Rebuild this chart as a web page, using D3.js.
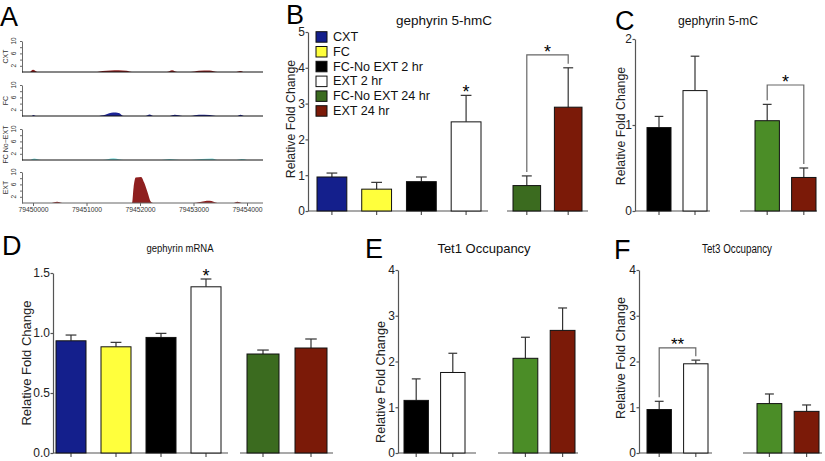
<!DOCTYPE html>
<html>
<head>
<meta charset="utf-8">
<script src="https://cdn.jsdelivr.net/npm/d3@7"></script>
<style>
  body { margin: 0; background: #fff; }
  svg { display: block; font-family: "Liberation Sans", Arial, sans-serif; }
</style>
</head>
<body>
<svg id="fig" width="825" height="461"></svg>
<script>
// ---------- data ----------
const groupNames = ["CXT", "FC", "FC-No EXT 2 hr", "EXT 2 hr", "FC-No EXT 24 hr", "EXT 24 hr"];

// B: gephyrin 5-hmC (all six groups)
const hmcMean = [0.95, 0.61, 0.82, 2.49, 0.71, 2.90];
const hmcSem  = [0.11, 0.19, 0.13, 0.74, 0.27, 1.10];

// C: gephyrin 5-mC (FC-No EXT 2 hr, EXT 2 hr, FC-No EXT 24 hr, EXT 24 hr)
const mcMean = [0.97, 1.40, 1.05, 0.39];
const mcSem  = [0.13, 0.40, 0.19, 0.11];

// D: gephyrin mRNA
const mrnaMean = [0.935, 0.885, 0.963, 1.385, 0.825, 0.875];
const mrnaSem  = [0.048, 0.037, 0.034, 0.065, 0.033, 0.075];

// E / F: Tet1 and Tet3 occupancy
const tet1Mean = [1.15, 1.76, 2.07, 2.68];
const tet1Sem  = [0.47, 0.42, 0.46, 0.49];
const tet3Mean = [0.95, 1.95, 1.08, 0.91];
const tet3Sem  = [0.18, 0.08, 0.21, 0.14];

// A: coverage tracks, [genomic position, signal]
const trackNames = ["CXT", "FC", "FC No\u2212EXT", "EXT"];
const genomeTicks = [79450000, 79451000, 79452000, 79453000, 79454000];
const cxtCoverage = [
  [79449950, 0], [79450000, 0.7], [79450080, 0],
  [79451200, 0], [79451300, 0.3], [79451450, 0.5], [79451600, 0.6], [79451750, 0.4], [79451850, 0],
  [79452500, 0], [79452600, 0.6], [79452700, 0],
  [79452950, 0], [79453100, 0.4], [79453300, 0.5], [79453450, 0],
  [79453800, 0], [79453870, 0.3], [79453930, 0]
];
const fcCoverage = [
  [79449980, 0], [79450010, 0.3], [79450050, 0],
  [79451200, 0], [79451350, 0.4], [79451500, 1.1], [79451600, 1.0], [79451700, 0],
  [79452100, 0], [79452180, 0.5], [79452250, 0],
  [79452550, 0], [79452650, 0.4], [79452800, 0],
  [79452950, 0], [79453100, 0.4], [79453300, 0.3], [79453420, 0],
  [79453820, 0], [79453880, 0.4], [79453940, 0]
];
const fcNoExtCoverage = [
  [79449950, 0], [79450020, 0.5], [79450150, 0],
  [79451300, 0], [79451500, 0.6], [79451700, 0],
  [79452400, 0], [79452550, 0.3], [79452750, 0],
  [79452950, 0], [79453150, 0.3], [79453350, 0.5], [79453450, 0],
  [79453800, 0], [79453900, 0.3], [79454000, 0]
];
const extCoverage = [
  [79450350, 0], [79450450, 0.4], [79450550, 0],
  [79451850, 0], [79451880, 5], [79451920, 8.2], [79452020, 8.4], [79452080, 6.5], [79452150, 3], [79452200, 0.5], [79452250, 0],
  [79453000, 0], [79453200, 0.6], [79453300, 0.7], [79453450, 0],
  [79453750, 0], [79453820, 0.4], [79453900, 0]
];

// ---------- colours ----------
const blue = "#141f8c", yellow = "#ffff3c", black = "#000", white = "#fff";
const greenDark = "#3b6b1f", green = "#4b8d27", red = "#7b1a08";
const axisColor = "#555";

const svg = d3.select("#fig");

function letter(t, x, y) {
  svg.append("text").attr("x", x).attr("y", y).attr("font-size", 27).text(t);
}

// ---------- panel A ----------
function drawTracks() {
  const gx = d3.scaleLinear().domain([79450000, 79454000]).range([33, 247]);
  const bases = [72, 116, 160, 203];
  const data = [cxtCoverage, fcCoverage, fcNoExtCoverage, extCoverage];
  const fills = ["#8e1f1f", "#1c2496", "#86dede", "#8e1f1f"];
  const g = svg.append("g");

  data.forEach((cov, i) => {
    const ty = d3.scaleLinear().domain([0, 10]).range([bases[i], bases[i] - 31]);
    const area = d3.area()
      .x(d => gx(d[0]))
      .y0(ty(0))
      .y1(d => ty(d[1]))
      .curve(d3.curveMonotoneX);
    g.append("path").datum(cov).attr("d", area).attr("fill", fills[i]);

    g.append("g")
      .attr("transform", "translate(22,0)")
      .call(d3.axisLeft(ty).tickValues([2, 4, 6, 8, 10]).tickSize(2).tickFormat("").tickSizeOuter(0))
      .call(a => a.selectAll("line, path").attr("stroke", "#444").attr("stroke-width", 0.8));

    [2, 6, 10].forEach(v => {
      g.append("text")
        .attr("transform", `translate(16,${ty(v)}) rotate(-90)`)
        .attr("text-anchor", "middle")
        .attr("font-size", 6.5).attr("fill", "#333")
        .text(v);
    });

    g.append("text")
      .attr("transform", `translate(8,${ty(5)}) rotate(-90)`)
      .attr("text-anchor", "middle")
      .attr("font-size", 7).attr("fill", "#333")
      .text(trackNames[i]);

    g.append("line")
      .attr("x1", 22).attr("x2", 263)
      .attr("y1", ty(0)).attr("y2", ty(0))
      .attr("stroke", i === 3 ? "#666" : "#111").attr("stroke-width", 1.2);
  });

  g.append("g")
    .attr("transform", `translate(0,${bases[3]})`)
    .call(d3.axisBottom(gx).tickValues(genomeTicks).tickFormat(d3.format("d")).tickSize(3).tickPadding(1))
    .call(a => a.select(".domain").remove())
    .call(a => a.selectAll("line").attr("stroke", "#666"))
    .call(a => a.selectAll("text").attr("font-size", 6.8).attr("fill", "#333").attr("font-family", null));
}

// ---------- bar panels ----------
function barPanel(p) {
  const g = svg.append("g");
  const y = d3.scaleLinear().domain([0, p.yMax]).range([p.y0, p.yTop]);

  g.append("g")
    .attr("transform", `translate(${p.axisX},0)`)
    .call(d3.axisLeft(y).tickValues(p.ticks).tickFormat(p.fmt).tickSize(2.5).tickSizeOuter(0).tickPadding(0.5))
    .call(a => a.selectAll("line, path").attr("stroke", axisColor).attr("stroke-width", 1.2))
    .call(a => a.selectAll("text").attr("font-size", 12).attr("fill", "#222").attr("font-family", null));

  g.append("text")
    .attr("transform", `translate(${p.ylab[0]},${p.ylab[1]}) rotate(-90)`)
    .attr("text-anchor", "middle").attr("dy", "0.35em")
    .attr("font-size", p.ylabSize).attr("fill", "#222")
    .text("Relative Fold Change");

  const title = g.append("text")
    .attr("x", p.titleAt[0]).attr("y", p.titleAt[1])
    .attr("text-anchor", "middle")
    .attr("font-size", p.titleSize).attr("fill", "#111")
    .text(p.title);
  // some panels were squeezed sideways in the original figure
  if (p.titleWidth) title.attr("textLength", p.titleWidth).attr("lengthAdjust", "spacingAndGlyphs");

  const xs = {};
  p.groups.forEach(grp => {
    const x = d3.scaleBand().domain(grp.bars).range(grp.span).paddingInner(1 / 3);
    grp.bars.forEach(i => { xs[i] = { x: x(i), w: x.bandwidth() }; });

    g.append("line")
      .attr("x1", grp.base[0]).attr("x2", grp.base[1])
      .attr("y1", p.y0).attr("y2", p.y0)
      .attr("stroke", axisColor).attr("stroke-width", 1.2);

    g.append("g")
      .attr("transform", `translate(0,${p.y0})`)
      .call(d3.axisBottom(x).tickFormat("").tickSize(4).tickSizeOuter(0))
      .call(a => a.select(".domain").remove())
      .call(a => a.selectAll("line").attr("stroke", axisColor).attr("stroke-width", 1.2));

    const bars = g.selectAll(null).data(grp.bars).join("g");
    bars.append("line")
      .attr("x1", i => x(i) + x.bandwidth() / 2).attr("x2", i => x(i) + x.bandwidth() / 2)
      .attr("y1", i => y(p.mean[i])).attr("y2", i => y(p.mean[i] + p.sem[i]))
      .attr("stroke", "#333").attr("stroke-width", 1.2);
    bars.append("line")
      .attr("x1", i => x(i) + x.bandwidth() * 0.32).attr("x2", i => x(i) + x.bandwidth() * 0.68)
      .attr("y1", i => y(p.mean[i] + p.sem[i])).attr("y2", i => y(p.mean[i] + p.sem[i]))
      .attr("stroke", "#333").attr("stroke-width", 1.2);
    bars.append("rect")
      .attr("x", i => x(i)).attr("width", x.bandwidth())
      .attr("y", i => y(p.mean[i])).attr("height", i => p.y0 - y(p.mean[i]))
      .attr("fill", i => p.colors[i]).attr("stroke", "#111").attr("stroke-width", 1);
  });

  const mid = i => xs[i].x + xs[i].w / 2;
  const errTop = i => y(p.mean[i] + p.sem[i]);

  (p.stars || []).forEach(s => {
    g.append("text")
      .attr("x", mid(s.bar)).attr("y", errTop(s.bar) - 7.5 + 0.58 * p.starSize)
      .attr("text-anchor", "middle").attr("font-size", p.starSize)
      .text(s.label);
  });

  (p.brackets || []).forEach(b => {
    const top = y(b.top);
    g.append("path")
      .attr("d", `M${mid(b.a)},${errTop(b.a) - 4}V${top}H${mid(b.b)}V${errTop(b.b) - 4}`)
      .attr("fill", "none").attr("stroke", "#666").attr("stroke-width", 1.2);
    g.append("text")
      .attr("x", (mid(b.a) + mid(b.b)) / 2).attr("y", top - 7.5 + 0.58 * p.starSize)
      .attr("text-anchor", "middle").attr("font-size", p.starSize)
      .text(b.label);
  });
}

function legend(x, y0) {
  const colors = [blue, yellow, black, white, greenDark, red];
  const g = svg.append("g");
  groupNames.forEach((name, i) => {
    const y = y0 + i * 14.8;
    g.append("rect").attr("x", x).attr("y", y).attr("width", 11).attr("height", 10.5)
      .attr("fill", colors[i]).attr("stroke", "#111").attr("stroke-width", 1);
    g.append("text").attr("x", x + 17).attr("y", y + 9.3)
      .attr("font-size", 12.6).attr("fill", "#111").text(name);
  });
}

drawTracks();

barPanel({
  title: "gephyrin 5-hmC", titleAt: [444, 25], titleSize: 13.5,
  mean: hmcMean, sem: hmcSem, colors: [blue, yellow, black, white, greenDark, red],
  yMax: 5, ticks: [0, 1, 2, 3, 4, 5], fmt: d3.format("d"),
  axisX: 308, y0: 211, yTop: 32, ylab: [291, 119], ylabSize: 12.3,
  groups: [
    { bars: [0, 1, 2, 3], base: [308, 488], span: [317, 481] },
    { bars: [4, 5], base: [507, 588], span: [513, 582] }
  ],
  stars: [{ bar: 3, label: "*" }],
  brackets: [{ a: 4, b: 5, top: 4.36, label: "*" }],
  starSize: 18
});

barPanel({
  title: "gephyrin 5-mC", titleAt: [718, 25], titleSize: 12.2,
  mean: mcMean, sem: mcSem, colors: [black, white, green, red],
  yMax: 2, ticks: [0, 1, 2], fmt: d3.format("d"),
  axisX: 635, y0: 211, yTop: 39, ylab: [621, 126], ylabSize: 12.3,
  groups: [
    { bars: [0, 1], base: [635, 710], span: [647, 707] },
    { bars: [2, 3], base: [740, 817], span: [755, 816] }
  ],
  brackets: [{ a: 2, b: 3, top: 1.465, label: "*" }],
  starSize: 18
});

barPanel({
  title: "gephyrin mRNA", titleAt: [180, 252], titleSize: 11.5, titleWidth: 67,
  mean: mrnaMean, sem: mrnaSem, colors: [blue, yellow, black, white, greenDark, red],
  yMax: 1.5, ticks: [0, 0.5, 1, 1.5], fmt: d3.format(".1f"),
  axisX: 53, y0: 453, yTop: 273, ylab: [26, 363], ylabSize: 13,
  groups: [
    { bars: [0, 1, 2, 3], base: [53, 228], span: [56, 221] },
    { bars: [4, 5], base: [240, 333], span: [247, 327] }
  ],
  stars: [{ bar: 3, label: "*" }],
  starSize: 18
});

barPanel({
  title: "Tet1 Occupancy", titleAt: [484, 253], titleSize: 13,
  mean: tet1Mean, sem: tet1Sem, colors: [black, white, green, red],
  yMax: 4, ticks: [0, 1, 2, 3, 4], fmt: d3.format("d"),
  axisX: 398, y0: 453, yTop: 270, ylab: [381, 382], ylabSize: 12.7,
  groups: [
    { bars: [0, 1], base: [398, 476], span: [404, 465] },
    { bars: [2, 3], base: [498, 578], span: [513, 575] }
  ],
  starSize: 18
});

barPanel({
  title: "Tet3 Occupancy", titleAt: [737, 253], titleSize: 12, titleWidth: 70,
  mean: tet3Mean, sem: tet3Sem, colors: [black, white, green, red],
  yMax: 4, ticks: [0, 1, 2, 3, 4], fmt: d3.format("d"),
  axisX: 639, y0: 453, yTop: 270, ylab: [621, 358], ylabSize: 12.7,
  groups: [
    { bars: [0, 1], base: [639, 712], span: [647, 708] },
    { bars: [2, 3], base: [743, 822], span: [757, 819] }
  ],
  brackets: [{ a: 0, b: 1, top: 2.3, label: "**" }],
  starSize: 17
});

legend(316, 31.7);

letter("A", 0, 26);
letter("B", 286, 24);
letter("C", 615, 30);
letter("D", 2, 255);
letter("E", 365, 258);
letter("F", 614, 259);
</script>
</body>
</html>
